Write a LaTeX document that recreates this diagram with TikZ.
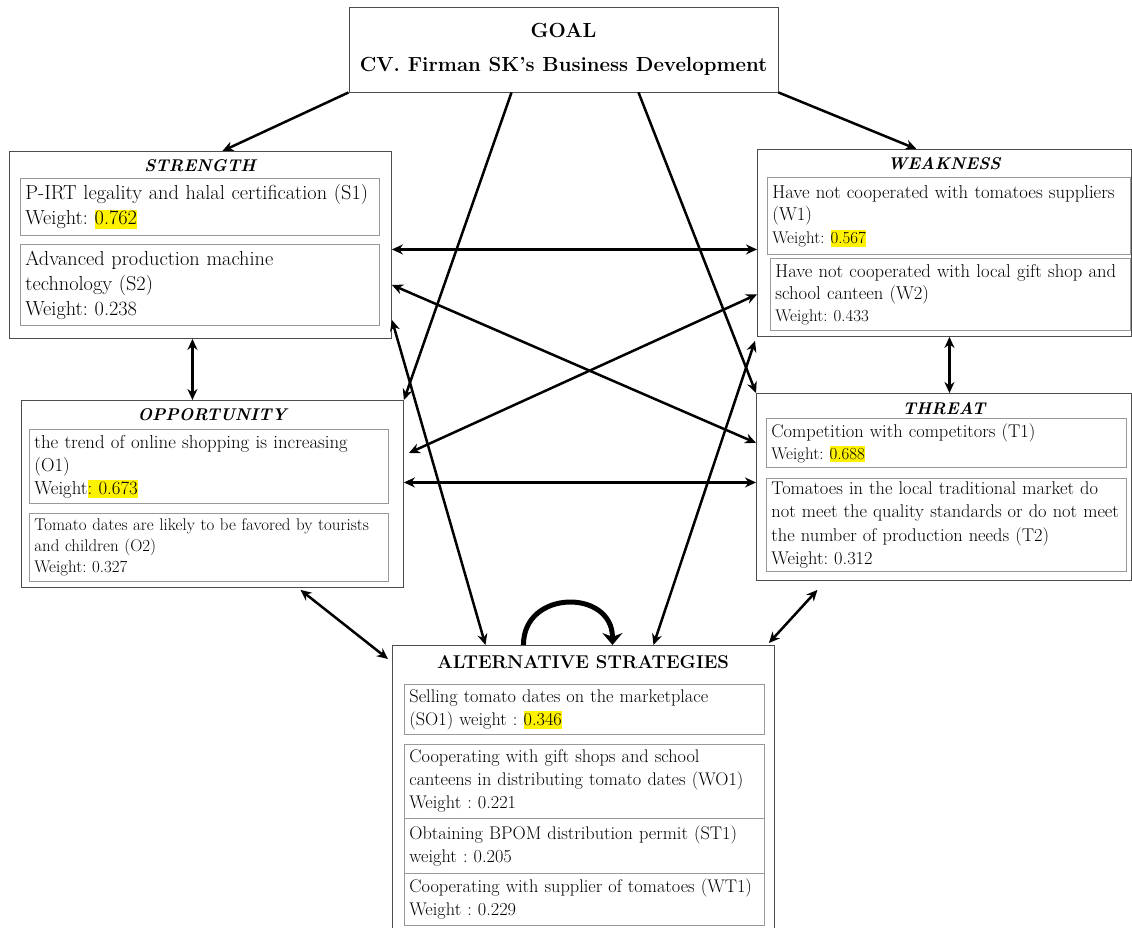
\documentclass[tikz,border=0pt]{standalone}
\usetikzlibrary{arrows.meta}
\frenchspacing
\newcommand{\mainfs}{\fontsize{18.7}{23}\selectfont}
\newcommand{\altfs}{\fontsize{18.3}{23}\selectfont}
\newcommand{\smallfs}{\fontsize{16.9}{21}\selectfont}
\newcommand{\hlnum}[1]{{\setlength{\fboxsep}{0pt}\colorbox{yellow}{\rule[-0.2em]{0pt}{0.95em}#1}}}
\tikzset{
  outer/.style={draw=black!70, line width=0.9pt, anchor=north west, inner sep=0pt},
  inbox/.style={draw=black!40, line width=0.8pt, anchor=north west, align=left,
    inner xsep=5pt, inner ysep=0pt, font=\mainfs},
  heading/.style={font=\fontsize{17}{22}\selectfont\bfseries\itshape},
  link/.style={line width=2.5pt, {Stealth[length=11pt,width=10pt]}-{Stealth[length=11pt,width=10pt]}},
  onelink/.style={line width=2.5pt, -{Stealth[length=11pt,width=10pt]}},
}
\begin{document}
\begin{tikzpicture}[x=1pt, y=-1pt]
    \useasboundingbox (0,0) rectangle (1132,928);

    % goal
    \node (G) [draw=black!70, line width=0.9pt, minimum width=429pt, minimum height=85pt,
      align=center, font=\fontsize{20.4}{34}\selectfont\bfseries] at (563.5,49.5)
      {GOAL\\CV. Firman SK's Business Development};

    % strength
    \node (S) [outer, minimum width=382pt, minimum height=187pt] at (9,151) {};
    \node (Sh) [heading] at (200,166) {STRENGTH};
    \node (S1) [inbox, text width=349pt, minimum height=57pt, font=\fontsize{20.3}{25}\selectfont] at (20,178)
      {P-IRT legality and halal certification (S1)\\ Weight: \hlnum{0.762}};
    \node (S2) [inbox, text width=349pt, minimum height=81pt, font=\fontsize{20.3}{25}\selectfont] at (20,244)
      {Advanced production machine\\ technology (S2)\\ Weight: 0.238};

    % weakness
    \node (W) [outer, minimum width=374pt, minimum height=187pt] at (757,149) {};
    \node (Wh) [heading] at (944,164) {WEAKNESS};
    \node (W1) [inbox, text width=353pt, minimum height=77pt, font=\fontsize{18.7}{22.5}\selectfont] at (767,177)
      {Have not cooperated with tomatoes suppliers\\ (W1)\\ {\smallfs Weight: \hlnum{0.567}}};
    \node (W2) [inbox, text width=350pt, minimum height=72pt, font=\fontsize{18.6}{22}\selectfont] at (770,258)
      {Have not cooperated with local gift shop and\\ school canteen (W2)\\ {\smallfs Weight: 0.433}};

    % opportunity
    \node (O) [outer, minimum width=382pt, minimum height=187pt] at (21,400) {};
    \node (Oh) [heading] at (212,415) {OPPORTUNITY};
    \node (O1) [inbox, text width=349pt, minimum height=74pt, font=\fontsize{18.8}{23}\selectfont] at (29,429)
      {the trend of online shopping is increasing\\ (O1)\\ Weight\hlnum{: 0.673}};
    \node (O2) [inbox, text width=349pt, minimum height=68pt, font=\smallfs] at (29,513)
      {Tomato dates are likely to be favored by tourists\\ and children (O2)\\ Weight: 0.327};

    % threat
    \node (T) [outer, minimum width=375pt, minimum height=187pt] at (756,393) {};
    \node (Th) [heading] at (944,409) {THREAT};
    \node (T1) [inbox, text width=350pt, minimum height=49pt, font=\fontsize{18.4}{22}\selectfont] at (766,418)
      {Competition with competitors (T1)\\ {\smallfs Weight: \hlnum{0.688}}};
    \node (T2) [inbox, text width=350pt, minimum height=93pt, font=\fontsize{18.4}{23.3}\selectfont] at (766,478)
      {Tomatoes in the local traditional market do\\ not meet the quality standards or do not meet\\
       the number of production needs (T2)\\ Weight: 0.312};

    % alternative strategies
    \node (A) [outer, minimum width=382pt, minimum height=300pt] at (392,645) {};
    \node (Ah) [font=\fontsize{18.5}{22}\selectfont\bfseries] at (583,662) {ALTERNATIVE STRATEGIES};
    \node (A1) [inbox, text width=350pt, minimum height=50pt, font=\altfs] at (404,684)
      {Selling tomato dates on the marketplace\\ (SO1) weight : \hlnum{0.346}};
    \node (A2) [inbox, text width=350pt, minimum height=74pt, font=\altfs] at (404,744)
      {Cooperating with gift shops and school\\ canteens in distributing tomato dates (WO1)\\ Weight : 0.221};
    \node (A3) [inbox, text width=350pt, minimum height=55pt, font=\altfs] at (404,818)
      {Obtaining BPOM distribution permit (ST1)\\ weight : 0.205};
    \node (A4) [inbox, text width=350pt, minimum height=52pt, font=\altfs] at (404,873)
      {Cooperating with supplier of tomatoes (WT1)\\ Weight : 0.229};

    % helper points for the straight links
    \coordinate (sw) at ([yshift=-4.5pt]S.east);
    \coordinate (ot) at ([yshift=11.5pt]O.east);
    \coordinate (so) at ([xshift=-8pt]S.south);
    \coordinate (wt) at ([xshift=5pt]W.south);

    \path[onelink] (G.south west) edge ([xshift=22pt]S.north)
                   (G.south east) edge ([xshift=-28pt]W.north)
                   ([xshift=-52pt]G.south) edge (O.north east)
                   ([xshift=75pt]G.south) edge (T.north west);

    \path[link] (sw) edge (sw -| W.west)
                (ot) edge (ot -| T.west)
                (so) edge (so |- O.north)
                (wt) edge (wt |- T.north)
                (S2.east -| S.east) edge (T1.west -| T.west)
                ([xshift=5pt,yshift=-53pt]O.north east) edge (W2.west -| W.west)
                ([yshift=19pt]S.south east) edge ([xshift=-98pt]A.north)
                ([xshift=-2pt,yshift=-4pt]W.south west) edge ([xshift=70pt]A.north)
                ([xshift=88pt,yshift=-2pt]O.south) edge ([xshift=-4pt,yshift=-14pt]A.north west)
                ([xshift=-126.5pt,yshift=-9pt]T.south) edge ([xshift=-6pt,yshift=2pt]A.north east);

    % loop on the strategies
    \draw[line width=5pt, -{Stealth[length=12pt,width=20pt]}]
      ([xshift=-60pt]A.north) .. controls +(0,-56) and +(0,-56) .. ([xshift=29pt]A.north);
\end{tikzpicture}
\end{document}
